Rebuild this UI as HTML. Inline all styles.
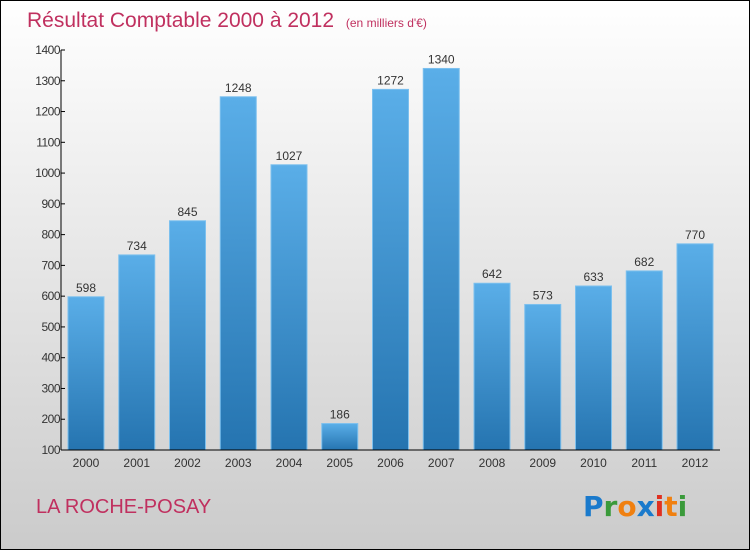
<!DOCTYPE html>
<html><head><meta charset="utf-8">
<style>
html,body{margin:0;padding:0}
body{width:750px;height:550px;overflow:hidden;font-family:"Liberation Sans",sans-serif}
</style></head>
<body>
<svg width="750" height="550" xmlns="http://www.w3.org/2000/svg" id="svg">
<defs>
<linearGradient id="bg" x1="0" y1="0" x2="0" y2="1"><stop offset="0" stop-color="#ffffff"/><stop offset="1" stop-color="#cbcbcb"/></linearGradient>
<linearGradient id="bar" x1="0" y1="0" x2="0" y2="1"><stop offset="0" stop-color="#5aaee8"/><stop offset="1" stop-color="#2574b0"/></linearGradient>
</defs>
<rect x="0.5" y="0.5" width="749" height="549" fill="url(#bg)" stroke="#000"/>
<text x="27" y="27" font-size="21" fill="#c0305f">Résultat Comptable 2000 à 2012 <tspan font-size="12" dx="6">(en milliers d'€)</tspan></text>
<g id="plot"></g>
<text x="36" y="513" font-size="20" fill="#c0305f">LA ROCHE-POSAY</text>
<g font-size="28" font-family="'DejaVu Sans',sans-serif" font-weight="bold">
<text x="583" y="516"><tspan fill="#1a7acc">P</tspan><tspan fill="#3a9a3a">r</tspan><tspan fill="#f08010">o</tspan><tspan fill="#1a7acc">x</tspan><tspan fill="#e03020">i</tspan><tspan fill="#f08010">t</tspan><tspan fill="#3a9a3a">i</tspan></text>
</g>
</svg>
<script>
const categories=["2000","2001","2002","2003","2004","2005","2006","2007","2008","2009","2010","2011","2012"];
const values=[598,734,845,1248,1027,186,1272,1340,642,573,633,682,770];
const yTicks=[100,200,300,400,500,600,700,800,900,1000,1100,1200,1300,1400];
const NS="http://www.w3.org/2000/svg";
const g=document.getElementById('plot');
const y0=450,y1=50,vmin=100,vmax=1400,xL=61,xR=720;
const y=v=>y0-(v-vmin)/(vmax-vmin)*(y0-y1);
const step=50.75,x=i=>86+i*step,bw=36;
function mk(t,a,p){const e=document.createElementNS(NS,t);for(const k in a)e.setAttribute(k,a[k]);(p||g).appendChild(e);return e;}
values.forEach((v,i)=>{
 const r=mk('rect',{x:x(i)-bw/2,y:y(v),width:bw,height:y0-y(v),fill:'url(#bar)',stroke:'#7cc0ee','stroke-width':1});
 
 
 const t=mk('text',{x:x(i),y:y(v)-5,'text-anchor':'middle','font-size':12,fill:'#333'});t.textContent=v;
 
 
 const c=mk('text',{x:x(i),y:467,'text-anchor':'middle','font-size':12,fill:'#333'});c.textContent=categories[i];
 
 
});
yTicks.forEach(v=>{
 const l=mk('line',{x1:xL,x2:xL+4,y1:y(v),y2:y(v),stroke:'#000'});
 
 
 const t=mk('text',{x:xL-1,y:y(v)+4,'text-anchor':'end','font-size':12,fill:'#333','letter-spacing':'-0.5'});t.textContent=v;
 
 
});
const ya=mk('line',{x1:xL,x2:xL,y1:y1,y2:y0,stroke:'#000'});


const xa=mk('line',{x1:xL,x2:xR,y1:y0,y2:y0,stroke:'#000'});


</script>
</body></html>
